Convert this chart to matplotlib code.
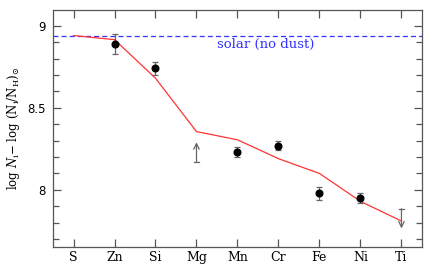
import matplotlib
matplotlib.use("Agg")
import matplotlib.pyplot as plt
from matplotlib.ticker import MultipleLocator

elements = ["S", "Zn", "Si", "Mg", "Mn", "Cr", "Fe", "Ni", "Ti"]
# measured points (element, value, error)
meas_el = ["Zn", "Si", "Mn", "Cr", "Fe", "Ni"]
meas_val = [8.89, 8.74, 8.23, 8.27, 7.98, 7.95]
meas_err = [0.06, 0.04, 0.03, 0.03, 0.04, 0.03]
# limits
lower_el = ["Mg"]
lower_val = [8.17]
upper_el = ["Ti"]
upper_val = [7.885]
# model (red) line
model_val = [8.94, 8.915, 8.68, 8.355, 8.305, 8.19, 8.10, 7.93, 7.81]
solar = 8.94

plt.rcParams['font.family'] = ['DejaVu Serif']
plt.rcParams['mathtext.fontset'] = 'custom'
plt.rcParams['mathtext.rm'] = 'DejaVu Serif'
plt.rcParams['mathtext.it'] = 'DejaVu Serif:italic'

fig = plt.figure(figsize=(4.31, 2.64), dpi=100)
ax = fig.add_axes([0.123, 0.0644, 0.856, 0.898])

xpos = {e: i for i, e in enumerate(elements)}
frame = '#555555'
ecol = '#666666'

ax.axhline(solar, color='#3333ff', ls=(0, (4, 2.5)), lw=0.9)
ax.plot(range(len(elements)), model_val, color='#ff3333', lw=0.9)

ax.errorbar([xpos[e] for e in meas_el], meas_val, yerr=meas_err, fmt='o',
            color='black', ms=4.8, ecolor=ecol, elinewidth=0.9, capsize=2.3, capthick=0.9)

arrow_len = 0.12
for e, v in zip(lower_el, lower_val):
    x = xpos[e]
    ax.plot([x - 0.07, x + 0.07], [v, v], color=ecol, lw=0.9)
    ax.annotate('', xy=(x, v + arrow_len), xytext=(x, v),
                arrowprops=dict(arrowstyle='->', color=ecol, lw=0.9,
                                shrinkA=0, shrinkB=0))
for e, v in zip(upper_el, upper_val):
    x = xpos[e]
    ax.plot([x - 0.07, x + 0.07], [v, v], color=ecol, lw=0.9)
    ax.annotate('', xy=(x, v - arrow_len), xytext=(x, v),
                arrowprops=dict(arrowstyle='->', color=ecol, lw=0.9,
                                shrinkA=0, shrinkB=0))

ax.text(3.51, 8.886, 'solar (no dust)', color='#3333ff', fontsize=9.5,
        ha='left', va='center')

ax.set_xlim(-0.5, 8.5)
ax.set_ylim(7.652, 9.096)
ax.set_xticks(range(len(elements)))
ax.set_xticklabels(elements)
ax.set_yticks([8, 8.5, 9])
ax.set_yticklabels(['8', '8.5', '9'], family='DejaVu Sans')
ax.yaxis.set_minor_locator(MultipleLocator(0.1))

ax.tick_params(axis='both', which='both', direction='in', top=True, right=True,
               color=frame, labelsize=8.5, width=0.9)
ax.tick_params(axis='x', labelsize=9, pad=3)
ax.tick_params(axis='both', which='major', length=6)
ax.tick_params(axis='both', which='minor', length=4)
ax.tick_params(axis='y', pad=5)
for s in ax.spines.values():
    s.set_color(frame)
    s.set_linewidth(0.9)

ax.set_ylabel(r'log $\mathit{N}_{\rm i}$$-$ log (N$_{\rm i}$/N$_{\rm H}$)$_{\odot}$',
              fontsize=8.5, labelpad=4)

fig.savefig('out.png', dpi=100)
